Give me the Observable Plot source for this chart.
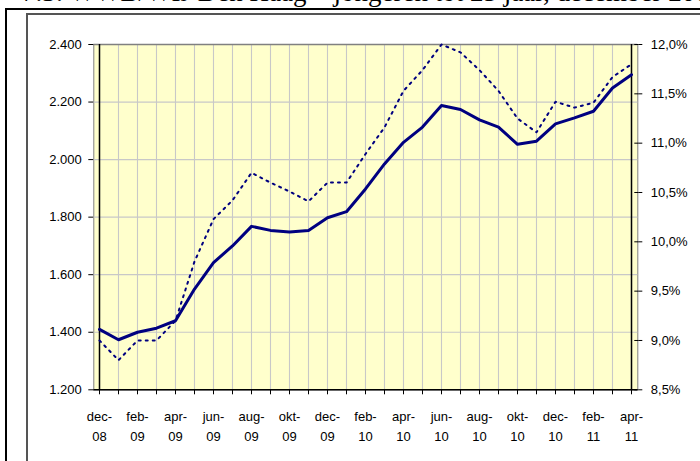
<!DOCTYPE html>
<html>
<head>
<meta charset="utf-8">
<script src="https://cdn.jsdelivr.net/npm/d3@7"></script>
<script src="https://cdn.jsdelivr.net/npm/@observablehq/plot@0.6"></script>
<style>
  html, body { margin: 0; padding: 0; background: #fff; }
  #wrap { position: relative; width: 700px; height: 461px; overflow: hidden; background: #fff; }
  #title { position: absolute; left: 22px; top: -21px; font-family: "Liberation Serif", "Times New Roman", serif; font-size: 27px; line-height: 27px; white-space: nowrap; color: #000; }
  #outer { position: absolute; left: 5px; top: 8px; width: 800px; height: 600px; border-left: 2px solid #000; border-top: 2px solid #000; }
  #inner { position: absolute; left: 26px; top: 13px; width: 800px; height: 600px; border-left: 2px solid #555; border-top: 2px solid #555; }
  #chart { position: absolute; left: 0; top: 0; }
</style>
</head>
<body>
<div id="wrap">
  <div id="title">7.3: WWB/WIJ Den Haag – jongeren tot 25 jaar, december 2008 – april 2011</div>
  <div id="outer"></div>
  <div id="inner"></div>
  <div id="chart"></div>
</div>
<script>
const months = ["dec-08","jan-09","feb-09","mrt-09","apr-09","mei-09","jun-09","jul-09","aug-09","sep-09","okt-09","nov-09",
  "dec-09","jan-10","feb-10","mrt-10","apr-10","mei-10","jun-10","jul-10","aug-10","sep-10","okt-10","nov-10",
  "dec-10","jan-11","feb-11","mrt-11","apr-11"];
const counts = [1410,1374,1400,1414,1440,1550,1642,1700,1768,1754,1748,1754,
  1798,1819,1898,1985,2060,2113,2188,2174,2138,2113,2053,2064,
  2124,2145,2168,2249,2295];
const percents = [9.0,8.8,9.0,9.0,9.2,9.8,10.23,10.42,10.70,10.60,10.51,10.41,
  10.60,10.60,10.89,11.16,11.53,11.74,12.0,11.92,11.74,11.53,11.25,11.11,
  11.42,11.36,11.41,11.67,11.80];
const countTicks = [1200,1400,1600,1800,2000,2200,2400];
const pctTicks = [8.5,9.0,9.5,10.0,10.5,11.0,11.5,12.0];

const toCount = p => 1200 + (p - 8.5) / 3.5 * 1200;
const toPct = c => 8.5 + (c - 1200) / 1200 * 3.5;
const data = months.map((m, i) => ({m, c: counts[i], p: toCount(percents[i])}));

const fmtCount = d => d3.format(",")(d).replace(/,/g, ".");
const fmtPct = c => toPct(c).toFixed(1).replace(".", ",") + "%";
const fmtMonth = d => (months.indexOf(d) % 2 === 0) ? d.replace("-", "-\n") : "";

const chart = Plot.plot({
  width: 700,
  height: 461,
  marginLeft: 93.3,
  marginRight: 62.7,
  marginTop: 44,
  marginBottom: 71.7,
  style: {fontFamily: "'Liberation Sans', Arial, sans-serif", fontSize: "13px", color: "#000", background: "transparent", overflow: "visible"},
  x: {type: "point", domain: months, padding: 0},
  y: {domain: [1200, 2400]},
  marks: [
    Plot.frame({fill: "#FFFFCC", stroke: "#808080"}),
    Plot.gridY({ticks: countTicks, stroke: "#C8C8C8", strokeOpacity: 1, strokeWidth: 1.2}),
    Plot.gridX({ticks: months, stroke: "#C8C8C8", strokeOpacity: 1, strokeWidth: 1.1}),
    Plot.ruleY([2400], {stroke: "#808080", strokeWidth: 1.5}),
    Plot.ruleY([1200], {stroke: "#000", strokeWidth: 1.5}),
    Plot.ruleX([months[0]], {stroke: "#000", strokeWidth: 1.5}),
    Plot.ruleX([months[months.length - 1]], {stroke: "#000", strokeWidth: 1.5}),
    Plot.axisY({ticks: countTicks, tickSize: 5, tickPadding: 7, tickFormat: fmtCount, label: null, stroke: "#000"}),
    Plot.axisY({anchor: "right", ticks: pctTicks.map(toCount), tickSize: 4, tickPadding: 9, tickFormat: fmtPct, label: null}),
    Plot.axisY({anchor: "right", ticks: pctTicks.map(toCount), tickSize: -4, tickFormat: () => "", label: null}),
    Plot.axisX({ticks: months, tickSize: 5, tickPadding: 12, tickFormat: fmtMonth, lineHeight: 1.54, label: null}),
    Plot.line(data, {x: "m", y: "p", stroke: "#000080", strokeWidth: 2, strokeDasharray: "2,5"}),
    Plot.line(data, {x: "m", y: "c", stroke: "#000080", strokeWidth: 3})
  ]
});
document.getElementById("chart").appendChild(chart);
</script>
</body>
</html>
